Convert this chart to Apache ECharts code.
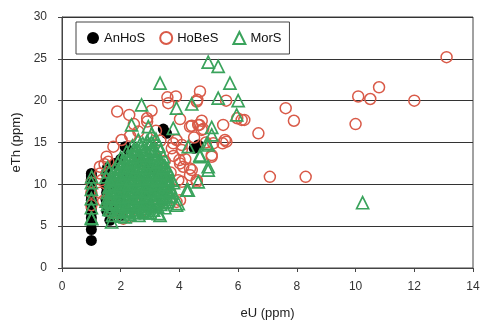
<!DOCTYPE html>
<html><head><meta charset="utf-8">
<script src="https://cdn.jsdelivr.net/npm/echarts@6/dist/echarts.min.js"></script>
<style>html,body{margin:0;padding:0;background:#fff}#c{width:490px;height:333px}</style>
</head><body><div id="c"></div>
<script>
var xTicks = [0,2,4,6,8,10,12,14];
var yTicks = [0,5,10,15,20,25,30];
var seriesNames = ['AnHoS','HoBeS','MorS'];

var anhos = [
[1.0,3.3],[1.0,4.6],[1.0,5.4],[1.0,6.0],[1.0,6.6],[1.0,7.1],[1.0,7.6],[1.0,8.1],[1.0,8.6],[1.0,9.1],[1.0,9.6],[1.0,10.1],[1.0,10.6],[1.0,11.0],[1.0,11.3],
[1.52,6.8],[1.52,7.5],[1.5,8.2],[1.52,9.0],[1.5,9.8],[1.52,10.5],[1.5,11.3],[1.55,12.0],
[1.63,5.7],[2.03,6.3],[1.7,7.0],[1.8,9.5],[2.0,8.0],[2.3,11.0],[2.6,12.8],[1.8,12.5],[2.0,13.0],[2.15,14.5],[2.26,14.1],
[3.45,16.6],[3.56,16.1],[4.64,14.7],[4.5,14.3],[3.0,12.0],[2.8,9.0]
];

var hobes = [
[13.1,25.2],[10.8,21.6],[10.09,20.5],[10.5,20.2],[12.0,20.0],[10.0,17.2],[7.62,19.1],[7.9,17.6],[6.69,16.1],[7.08,10.9],[8.3,10.9],
[4.7,21.1],[3.59,20.4],[3.88,20.5],[4.61,20.1],[5.59,20.0],[4.02,17.8],[4.76,17.6],[4.68,17.1],[4.42,17.0],[5.49,17.1],[6.21,17.7],[5.97,17.9],
[4.81,16.6],[5.55,15.3],[5.47,14.9],[5.6,15.1],[5.1,13.3],[4.59,10.5],[4.36,11.1],[4.36,11.9],[4.0,12.9],[4.02,8.1],[4.08,10.3],[4.13,12.1],
[3.79,14.9],[4.08,14.7],[4.76,16.5],
[1.88,18.7],[2.29,18.3],[2.9,17.9],[2.9,17.5],[3.62,19.7],[4.59,19.9],[4.64,17.1],[4.36,16.9],[6.12,17.7],
[2.03,15.3],[1.52,13.3],[1.58,12.7],[1.29,12.1],[3.9,15.3],[4.08,14.1],[3.74,14.3],[4.02,12.5],[4.42,11.7],[3.96,10.5],[4.59,10.3],
[3.68,9.1],[3.9,7.9],[2.09,5.9],[5.15,14.9],[5.1,13.5],[1.75,14.5],[2.32,15.8],[2.6,16.3],[3.2,16.4],[3.35,15.2],
[1.0,7.5],[1.0,9.0],[1.0,10.2],[1.3,9.0],[1.35,10.5],[1.4,8.0],[1.3,11.3],[1.45,12.4],
[1.7,6.6],[2.3,6.1],[2.7,6.8],[3.0,7.3],[3.4,8.0],[3.6,9.8],[3.7,11.4],[3.5,12.8],[3.1,13.9],[2.5,13.6],
[1.9,11.0],[2.2,9.3],[2.5,10.6],[2.8,8.4],[3.2,10.0],[2.4,7.7],[1.8,8.6],[2.9,12.3],[2.1,12.0],[3.3,11.1],
[3.8,13.4],[4.2,13.0],[4.5,15.6],[4.9,15.0],[2.45,17.2],[3.05,18.8]
];

var mors = [
[10.24,7.8],
[4.98,24.6],[5.32,24.1],[3.34,22.1],[5.72,22.1],[5.32,20.3],[6.0,20.0],[4.42,19.6],[3.9,19.1],[5.95,18.3],[5.1,16.8],[3.79,16.7],
[4.98,11.7],[4.64,10.3],[4.3,9.3],[3.9,7.5],[3.34,6.3],[4.98,14.7],[5.1,15.9],[4.7,13.3],[3.68,8.5],
[2.71,19.5],[2.37,17.1],[2.94,16.9],[4.98,12.1],[4.25,9.3],[3.28,6.5],[3.96,7.7],[1.69,5.5],[2.15,6.1],[1.01,5.9],[1.01,10.9],
[4.93,14.9],[4.3,14.5],[4.7,13.5],
[1.0,6.0],[1.0,7.2],[1.0,8.3],[1.0,9.4],[1.0,10.2],
[1.72,6.3],[2.02,6.2],[2.31,6.4],[2.62,6.3],
[1.6,7.0],[1.92,7.1],[2.21,6.9],[2.5,7.0],[2.83,7.1],[3.12,6.9],
[1.55,7.6],[1.86,7.7],[2.14,7.5],[2.47,7.6],[2.76,7.7],[3.04,7.5],[3.36,7.6],
[1.6,8.3],[1.91,8.2],[2.2,8.4],[2.52,8.3],[2.79,8.2],[3.11,8.4],[3.4,8.3],[3.62,8.2],
[1.55,9.0],[1.84,9.1],[2.16,8.9],[2.45,9.0],[2.74,9.1],[3.06,8.9],[3.35,9.0],[3.66,9.1],
[1.6,9.7],[1.9,9.6],[2.21,9.8],[2.5,9.7],[2.81,9.6],[3.1,9.8],[3.41,9.7],[3.7,9.6],
[1.65,10.4],[1.96,10.5],[2.24,10.3],[2.55,10.4],[2.86,10.5],[3.15,10.3],[3.44,10.4],[3.74,10.5],
[1.7,11.1],[2.01,11.0],[2.3,11.2],[2.61,11.1],[2.9,11.0],[3.21,11.2],[3.5,11.1],
[1.8,11.8],[2.1,11.9],[2.41,11.7],[2.7,11.8],[3.0,11.9],[3.31,11.7],[3.6,11.8],
[1.9,12.5],[2.21,12.4],[2.5,12.6],[2.81,12.5],[3.1,12.4],[3.4,12.6],
[2.0,13.2],[2.3,13.1],[2.61,13.3],[2.9,13.2],[3.2,13.1],[3.45,13.3],
[2.2,13.9],[2.5,14.0],[2.8,13.8],[3.1,13.9],[3.35,14.0],
[2.4,14.6],[2.7,14.5],[3.0,14.7],[3.3,14.6],
[2.6,15.3],[2.9,15.2],[3.2,15.4],[3.05,16.0],
[1.75,8.7],[2.05,9.4],[2.35,10.1],[2.65,8.6],[2.95,10.8],[3.25,9.3],[3.55,10.7],[1.85,10.8],[2.15,11.5],[2.45,12.2],
[2.75,12.9],[3.05,12.1],[3.35,11.4],[2.3,7.3],[2.6,7.9],[2.9,8.7],[3.2,7.9],[1.7,9.9],[2.0,10.6],[2.55,11.5],
[3.5,12.2],[3.6,11.0],[3.75,9.0],[3.8,10.2],[3.5,7.2],[2.85,6.6],[1.5,8.0],[1.5,10.9],[1.55,12.0],[1.6,11.5],
[1.86,6.65],[2.16,6.7],[2.46,6.6],[2.76,6.7],[3.0,6.6],
[1.74,7.3],[2.06,7.35],[2.36,7.25],[2.66,7.3],[2.96,7.35],[3.26,7.3],
[1.7,7.95],[2.0,8.0],[2.32,7.9],[2.62,8.0],[2.92,7.95],[3.24,8.0],[3.52,7.9],
[1.7,8.65],[2.02,8.6],[2.32,8.7],[2.6,8.65],[2.9,8.6],[3.22,8.7],[3.5,8.65],
[1.72,9.35],[2.02,9.3],[2.34,9.4],[2.64,9.35],[2.94,9.3],[3.24,9.4],[3.54,9.35],
[1.78,10.05],[2.08,10.1],[2.38,10.0],[2.68,10.05],[2.98,10.1],[3.28,10.0],[3.58,10.05],
[1.82,10.75],[2.12,10.7],[2.42,10.8],[2.72,10.75],[3.02,10.7],[3.32,10.8],[3.62,10.6],
[1.92,11.45],[2.22,11.4],[2.52,11.5],[2.82,11.45],[3.12,11.4],[3.42,11.5],
[2.02,12.15],[2.32,12.1],[2.62,12.2],[2.92,12.15],[3.22,12.1],[3.5,12.2],
[2.12,12.85],[2.42,12.8],[2.72,12.9],[3.02,12.85],[3.32,12.8],
[2.35,13.55],[2.65,13.5],[2.95,13.6],[3.25,13.55],
[2.55,14.25],[2.85,14.2],[3.15,14.3],[2.75,14.9],[3.05,15.0],
[1.66,6.95],[1.96,6.85],[2.27,6.8],[2.57,6.95],[2.9,6.85],
[1.64,7.8],[1.95,7.55],[2.25,7.75],[2.55,7.55],[2.85,7.8],[3.15,7.65],[3.45,7.8],
[1.65,8.5],[1.97,8.45],[2.27,8.55],[2.57,8.45],[2.86,8.55],[3.17,8.45],[3.47,8.5],[3.7,8.6],
[1.66,9.2],[1.96,9.25],[2.27,9.15],[2.57,9.25],[2.86,9.2],[3.16,9.15],[3.46,9.25],[3.72,9.3],
[1.67,9.95],[1.97,9.9],[2.28,10.0],[2.58,9.95],[2.88,9.9],[3.18,10.0],[3.48,9.95],
[1.74,10.6],[2.04,10.65],[2.34,10.55],[2.64,10.6],[2.94,10.65],[3.24,10.55],[3.52,10.6],
[1.86,11.3],[2.16,11.25],[2.46,11.35],[2.76,11.3],[3.06,11.25],[3.36,11.35],
[1.96,12.0],[2.26,11.95],[2.56,12.05],[2.86,12.0],[3.16,11.95],[3.44,12.0],
[2.06,12.65],[2.36,12.7],[2.66,12.6],[2.96,12.65],[3.26,12.7],
[2.26,13.35],[2.56,13.3],[2.86,13.4],[3.16,13.35],
[2.45,14.1],[2.75,14.05],[3.05,14.15],[2.65,14.75],[2.95,14.8]
];

var chart = echarts.init(document.getElementById('c'), null, {renderer:'canvas'});
var font = 'Liberation Sans, Arial, sans-serif';
chart.setOption({
  animation:false,
  backgroundColor:'#fff',
  grid:{left:62,right:17,top:17,bottom:65,show:true,borderColor:'#444',borderWidth:1,backgroundColor:'transparent'},
  legend:{
    left:76, top:22, orient:'horizontal',
    data:seriesNames,
    backgroundColor:'#fff', borderColor:'#444', borderWidth:1, borderRadius:0,
    padding:[9,8,9,11], itemGap:14, itemWidth:12, itemHeight:12,
    textStyle:{fontFamily:font,fontSize:13,color:'#111'}
  },
  xAxis:{
    type:'value', min:xTicks[0], max:xTicks[xTicks.length-1], interval:2,
    name:'eU (ppm)', nameLocation:'middle', nameGap:39,
    nameTextStyle:{fontFamily:font,fontSize:13,color:'#222'},
    axisLine:{show:true,lineStyle:{color:'#444',width:1}},
    axisTick:{show:true,length:4,inside:false,lineStyle:{color:'#444'}},
    axisLabel:{fontFamily:font,fontSize:12,color:'#333',margin:13},
    splitLine:{show:false}
  },
  yAxis:{
    type:'value', min:yTicks[0], max:yTicks[yTicks.length-1], interval:5,
    name:'eTh (ppm)', nameLocation:'middle', nameGap:35, nameRotate:90,
    nameTextStyle:{fontFamily:font,fontSize:13,color:'#222'},
    axisLine:{show:true,lineStyle:{color:'#444',width:1}},
    axisTick:{show:true,length:4,inside:false,lineStyle:{color:'#444'}},
    axisLabel:{fontFamily:font,fontSize:12,color:'#333',margin:15},
    splitLine:{show:true,lineStyle:{color:'#333',width:1}}
  },
  series:[
    {name:seriesNames[0], type:'scatter', data:anhos, symbol:'circle', symbolSize:11,
     itemStyle:{color:'#000',opacity:1}},
    {name:seriesNames[1], type:'scatter', data:hobes, symbol:'circle', symbolSize:11,
     itemStyle:{color:'rgba(255,255,255,0)',borderColor:'#d95a48',borderWidth:1.5,opacity:1}},
    {name:seriesNames[2], type:'scatter', data:mors, symbol:'triangle', symbolSize:12,
     itemStyle:{color:'rgba(255,255,255,0)',borderColor:'#3aa35c',borderWidth:1.7,opacity:1}}
  ]
});
</script></body></html>
